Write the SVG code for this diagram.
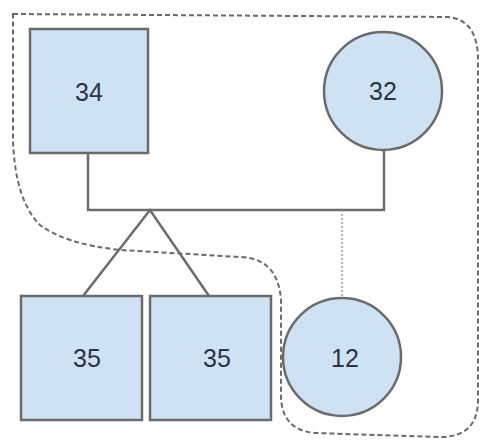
<svg xmlns="http://www.w3.org/2000/svg" width="480" height="440" viewBox="0 0 480 440">
<style>
.n{fill:#cfe2f3;stroke:#6b6b6b;stroke-width:2.5}
.t{font-family:"Liberation Sans",Arial,sans-serif;font-size:25px;fill:#2b3440;text-anchor:middle;dominant-baseline:central}
.c{fill:none;stroke:#6b6b6b;stroke-width:2.5}
.d{fill:none;stroke:#999;stroke-width:1.5;stroke-dasharray:2,2}
.b{fill:none;stroke:#6a6a6a;stroke-width:2;stroke-dasharray:5,3}
</style>
<rect width="480" height="440" fill="#fff"/>
<path class="b" d="M13,14 L448,17 Q478,20 478,60 L478,400 Q478,437 440,437 L315,433 Q281,430 281,395 L281,300 Q278,258 240,257 L120,250 Q65,244 40,225 Q15,200 13,140 Z"/>
<g id="connectors">
<path class="c" d="M88,153 L88,210 L384,210 L384,150"/>
<path class="c" d="M83,296 L150,210 L209,296"/>
<path class="d" d="M342,210 L342,298"/>
</g>
<g id="n34"><rect class="n" x="30" y="29" width="118" height="124"/><text class="t" x="89" y="92">34</text></g>
<g id="n32"><circle class="n" cx="383" cy="91" r="59"/><text class="t" x="383" y="91">32</text></g>
<g id="n35a"><rect class="n" x="21" y="296" width="121" height="124"/><text class="t" x="87" y="358">35</text></g>
<g id="n35b"><rect class="n" x="150" y="296" width="121" height="124"/><text class="t" x="217" y="358">35</text></g>
<g id="n12"><circle class="n" cx="342" cy="357" r="59"/><text class="t" x="345" y="358">12</text></g>
</svg>
